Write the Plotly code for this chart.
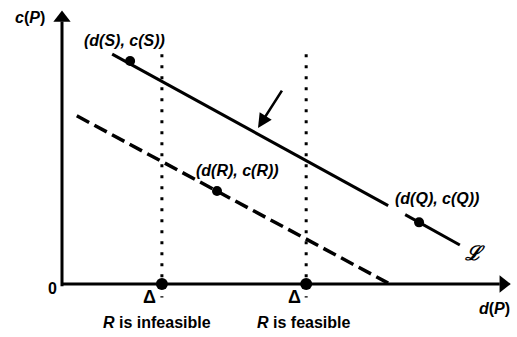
import plotly.graph_objects as go

# ---- data (chart units) ----
line_L_x = [1.12, 7.28, None, 7.66, 8.88]
line_L_y = [5.07, 1.73, None, 1.53, 0.86]
dash_x = [0.33, 7.28]
dash_y = [3.71, 0.02]
pts_x = [1.52, 3.46, 7.97]          # S, R, Q
pts_y = [4.92, 2.05, 1.36]
delta_x = [2.23, 5.45]               # two Delta thresholds
delta_top = 5.07
delta_bottom = -0.30
axis_x_end = 10.02
axis_y_end = 6.04

FONT = "Liberation Sans"
BLACK = "#000000"

fig = go.Figure()

# solid line L
fig.add_trace(go.Scatter(x=line_L_x, y=line_L_y, mode="lines",
                         line=dict(color=BLACK, width=3), connectgaps=False,
                         hoverinfo="skip"))
# dashed line
fig.add_trace(go.Scatter(x=dash_x, y=dash_y, mode="lines",
                         line=dict(color=BLACK, width=3.5, dash="14px,6px"),
                         hoverinfo="skip"))
# dotted verticals
for dx in delta_x:
    fig.add_trace(go.Scatter(x=[dx, dx], y=[delta_top, delta_bottom], mode="lines",
                             line=dict(color=BLACK, width=3, dash="3px,8px"),
                             hoverinfo="skip"))
# axes lines
fig.add_trace(go.Scatter(x=[0, 0], y=[-0.05, axis_y_end - 0.25], mode="lines",
                         line=dict(color=BLACK, width=3), hoverinfo="skip"))
fig.add_trace(go.Scatter(x=[0, axis_x_end - 0.25], y=[0, 0], mode="lines",
                         line=dict(color=BLACK, width=3), hoverinfo="skip"))
# arrowheads of axes
fig.add_trace(go.Scatter(x=[0], y=[axis_y_end - 0.17], mode="markers",
                         marker=dict(symbol="triangle-up", size=15, color=BLACK,
                                     line=dict(width=0)), hoverinfo="skip"))
fig.add_trace(go.Scatter(x=[axis_x_end - 0.17], y=[0], mode="markers",
                         marker=dict(symbol="triangle-right", size=15, color=BLACK,
                                     line=dict(width=0)), hoverinfo="skip"))
# points S, R, Q
fig.add_trace(go.Scatter(x=pts_x, y=pts_y, mode="markers",
                         marker=dict(size=10, color=BLACK), hoverinfo="skip"))
# points on x-axis
fig.add_trace(go.Scatter(x=delta_x, y=[0, 0], mode="markers",
                         marker=dict(size=12, color=BLACK), hoverinfo="skip"))

# pointer arrow to line L
fig.add_annotation(x=4.375, y=3.44, ax=4.93, ay=4.30, xref="x", yref="y",
                   axref="x", ayref="y", text="", showarrow=True,
                   arrowhead=2, arrowsize=1.1, arrowwidth=2.6, arrowcolor=BLACK)

def label(x, y, txt, size=16):
    fig.add_annotation(x=x, y=y, xref="x", yref="y", text=txt, showarrow=False,
                       font=dict(family=FONT, size=size, color=BLACK),
                       xanchor="center", yanchor="middle")

label(-0.714, 5.87, "<b><i>c</i>(<i>P</i>)</b>")
label(1.395, 5.38, "<b><i>(d(S), c(S))</i></b>")
label(3.906, 2.515, "<b><i>(d(R), c(R))</i></b>")
label(8.37, 1.897, "<b><i>(d(Q), c(Q))</i></b>")
label(9.22, 0.68, "<b><i>ℒ</i></b>", size=20)
label(-0.223, -0.088, "<b>0</b>")
label(1.964, -0.29, "<b>Δ</b>", size=18)
label(5.20, -0.29, "<b>Δ</b>", size=18)
label(2.13, -0.86, "<b><i>R</i> is infeasible</b>")
label(5.40, -0.86, "<b><i>R</i> is feasible</b>")
label(9.643, -0.53, "<b><i>d</i>(<i>P</i>)</b>")

fig.update_layout(
    width=517, height=337, margin=dict(l=0, r=0, t=0, b=0),
    paper_bgcolor="white", plot_bgcolor="white", showlegend=False,
    xaxis=dict(range=[-1.384, 10.156], visible=False, fixedrange=True),
    yaxis=dict(range=[-1.169, 6.265], visible=False, fixedrange=True),
)

fig.write_html("out.html")
